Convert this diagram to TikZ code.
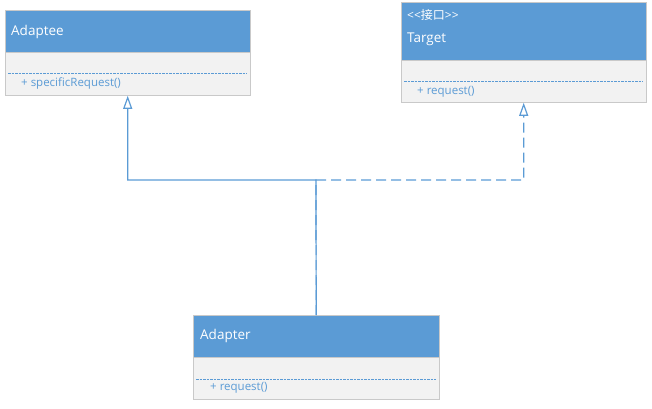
\documentclass[tikz,border=0pt]{standalone}
\usepackage{fontspec}
\setmainfont{Open Sans}
\newfontfamily\cjk{Noto Sans CJK SC}
\usetikzlibrary{arrows.meta}
\definecolor{umlblue}{HTML}{5B9BD5}
\definecolor{umlline}{HTML}{5B9BD5}
\definecolor{umlbody}{HTML}{F2F2F2}
\definecolor{umlframe}{HTML}{C9C9C9}
\def\joint{180}
\tikzset{
  headbox/.style={draw=umlframe, fill=umlblue, anchor=north west, inner sep=0pt},
  bodybox/.style={draw=umlframe, fill=umlbody, anchor=north west, inner sep=0pt},
  headtext/.style={anchor=west, inner sep=0pt, text=white, font=\fontsize{13.5}{15}\selectfont},
  optext/.style={anchor=west, inner sep=0pt, text=umlblue, font=\fontsize{11.5}{13}\selectfont},
  sepline/.style={draw=umlline, line width=1pt, dash pattern=on 2.5pt off 1pt},
  inherit/.style={draw=umlline, line width=1.2pt, -{Triangle[open, length=13pt, width=9pt, fill=white]}},
  realize/.style={inherit, dash pattern=on 10pt off 5pt}
}
\begin{document}
\begin{tikzpicture}[x=1pt, y=-1pt]
\useasboundingbox (0,0) rectangle (652,408);

%Adaptee class
\node[headbox, minimum width=245, minimum height=42] (adapteehead) at (5,10) {};
\node[bodybox, minimum width=245, minimum height=43] (adaptee) at (adapteehead.south west) {};
\node[headtext] (adapteename) at (11,31.5) {Adaptee};
\draw[sepline] ([xshift=3pt,yshift=-21pt]adaptee.north west) -- ([xshift=-3pt,yshift=-21pt]adaptee.north east);
\node[optext] (adapteeop) at (21,83) {+ specificRequest()};

%Target interface
\node[headbox, minimum width=245, minimum height=58] (targethead) at (401,2) {};
\node[bodybox, minimum width=245, minimum height=42] (target) at (targethead.south west) {};
\node[optext, font=\fontsize{12}{14}\selectfont, text=white] (targetstereo) at (407,15) {{<}{<}{\cjk 接口}{>}{>}};
\node[headtext] (targetname) at (407,39) {Target};
\draw[sepline] ([xshift=3pt,yshift=-21pt]target.north west) -- ([xshift=-3pt,yshift=-21pt]target.north east);
\node[optext] (targetop) at (417,92) {+ request()};

%Adapter class
\node[headbox, minimum width=246, minimum height=42] (adapterhead) at (193,315) {};
\node[bodybox, minimum width=246, minimum height=42] (adapter) at (adapterhead.south west) {};
\node[headtext] (adaptername) at (200,336) {Adapter};
\draw[sepline] ([xshift=3pt,yshift=-22pt]adapter.north west) -- ([xshift=-3pt,yshift=-22pt]adapter.north east);
\node[optext] (adapterop) at (210,388) {+ request()};

%connectors
\coordinate (bend) at (316,\joint);
\draw[inherit] (adapterhead.north) -- (bend) -| (adaptee.south);
\draw[realize] (adapterhead.north) -- (bend) -| (target.south);

\end{tikzpicture}
\end{document}
